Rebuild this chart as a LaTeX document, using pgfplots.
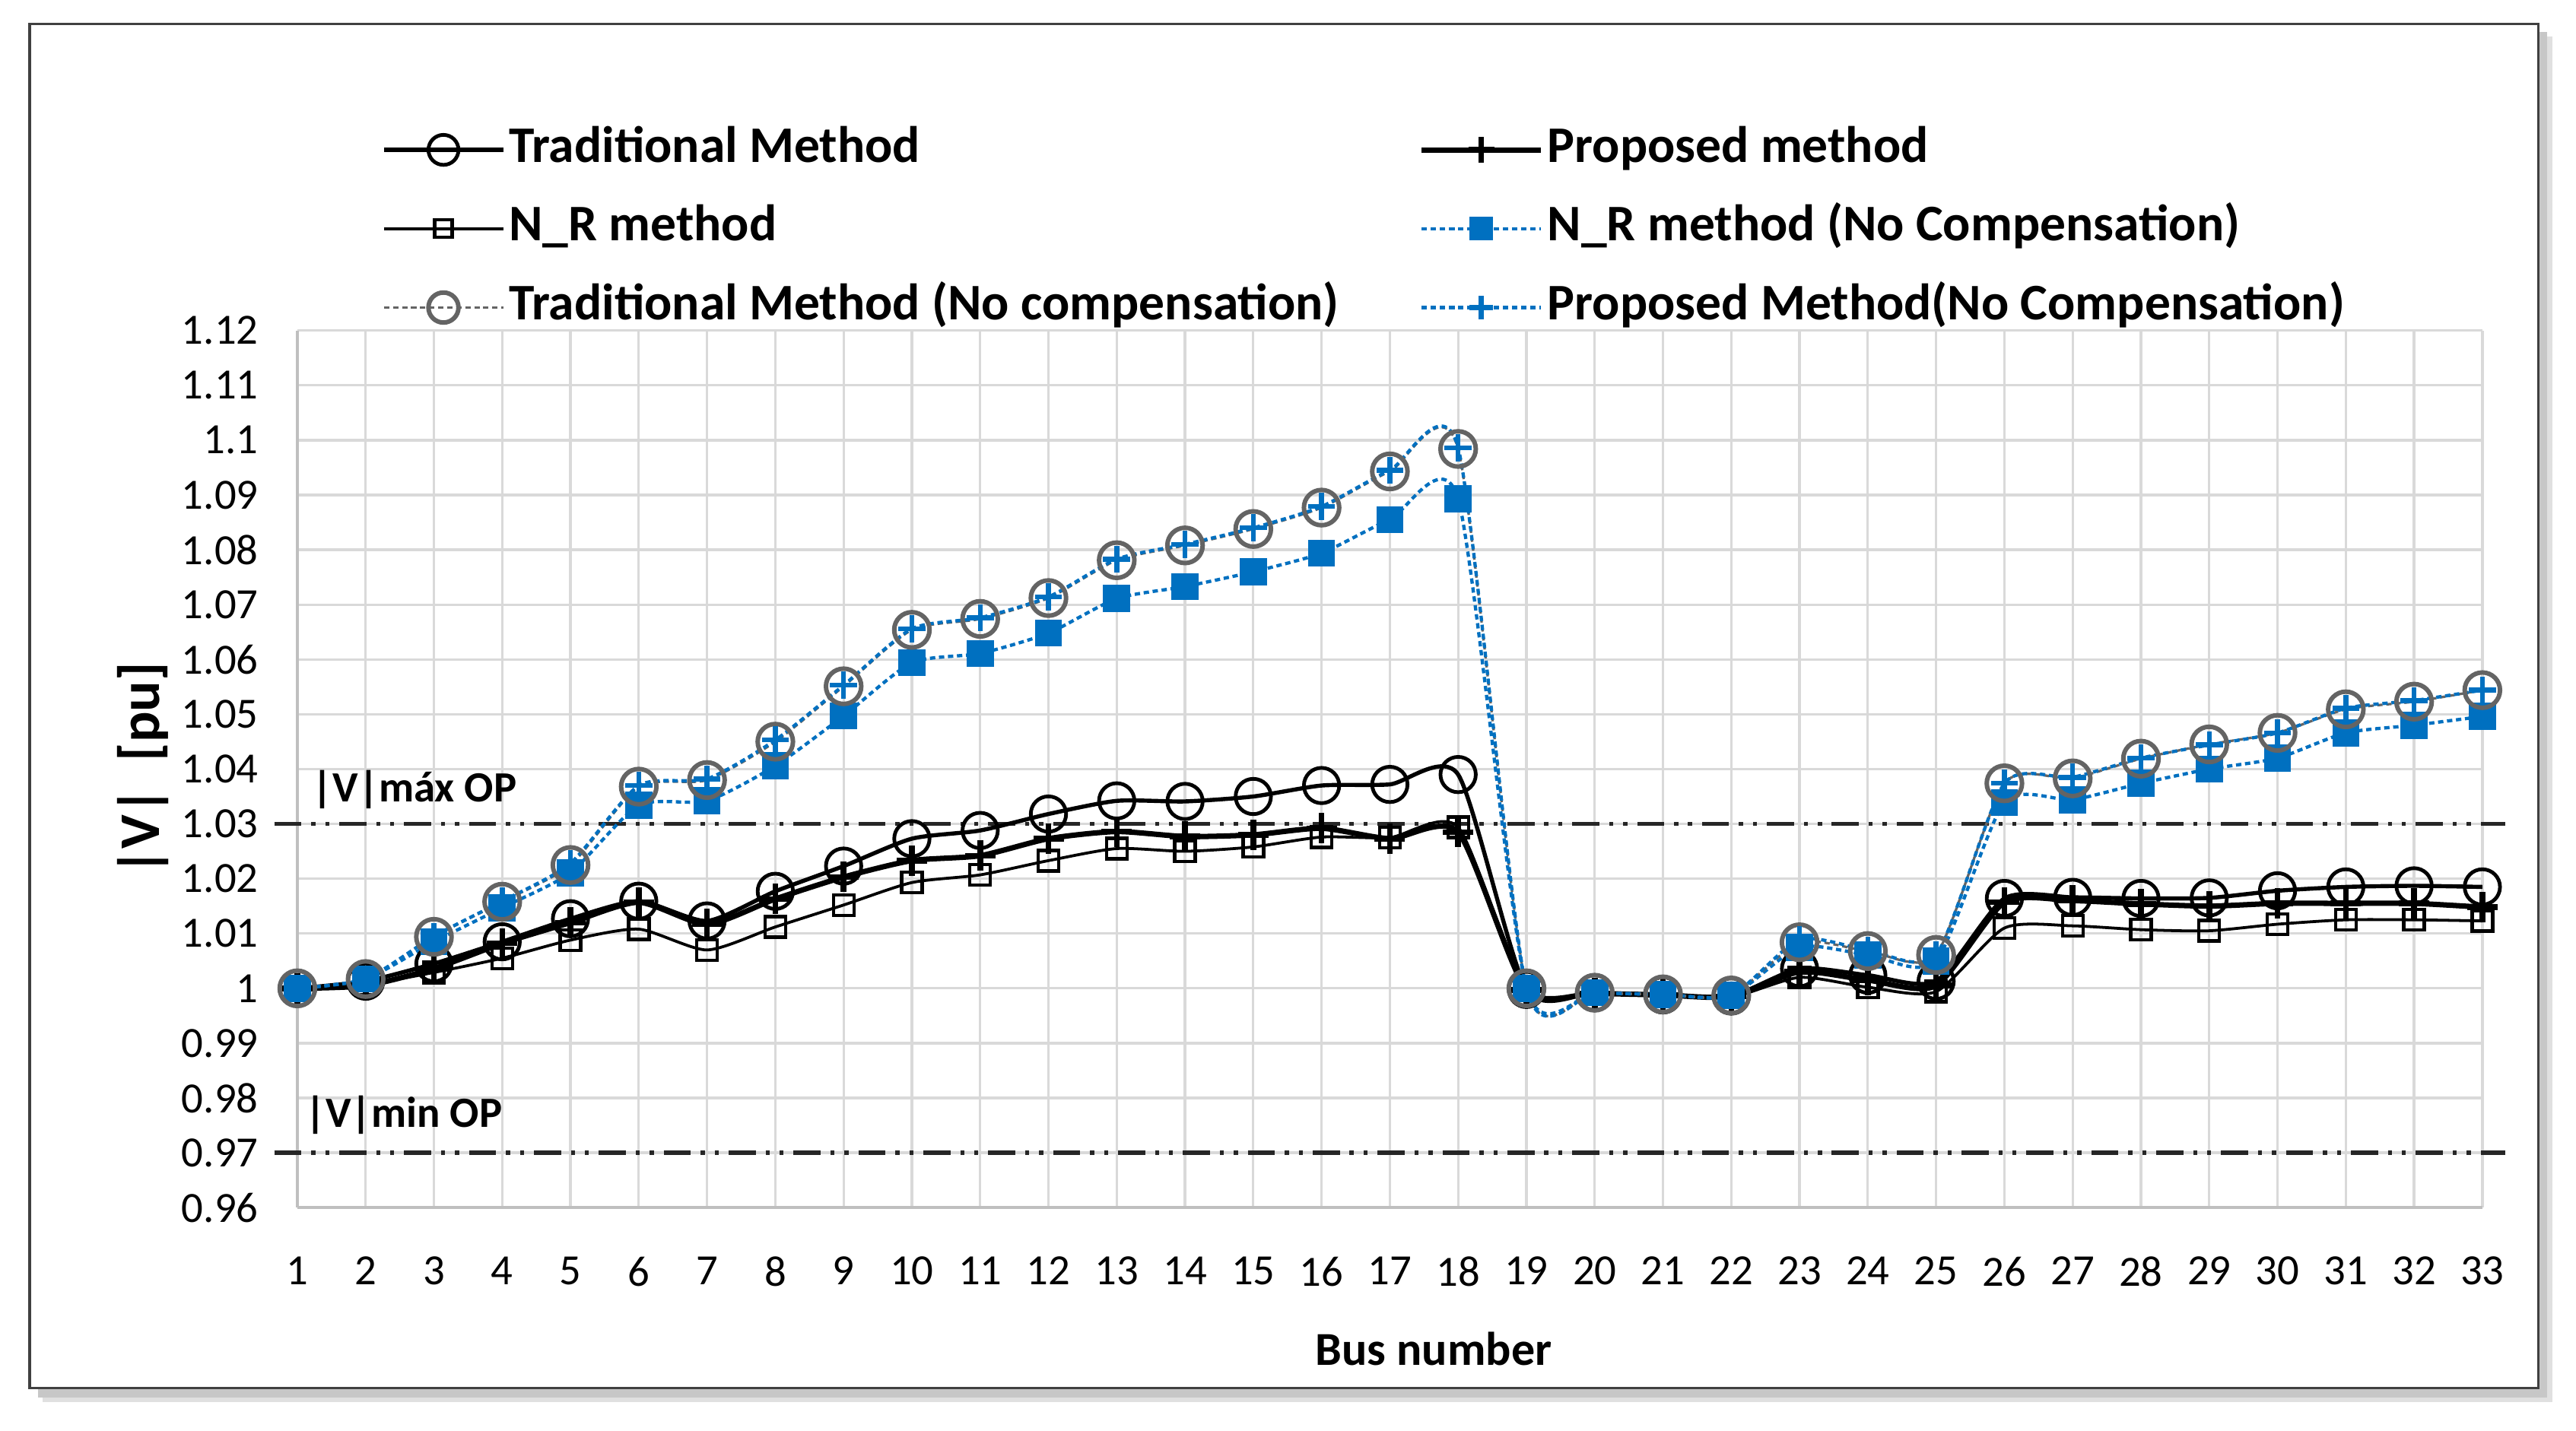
\documentclass[border=0pt]{standalone}
\usepackage{pgfplots}
\pgfplotsset{compat=1.18}
\usepackage{pgfplotstable}
\usepackage{fontspec}
\setmainfont{Carlito}

\definecolor{ncblue}{RGB}{0,112,192}
\definecolor{ncgrey}{RGB}{100,100,100}
\definecolor{gridgrey}{RGB}{217,217,217}
\definecolor{axisgrey}{RGB}{191,191,191}

% bus voltages |V| in pu
% T = traditional, P = proposed, N = N_R, NB = N_R no comp., TG = traditional no comp., PB = proposed no comp.
\pgfplotstableread{
bus T      P      N      NB     TG     PB
1   1.0000 1.0000 1.0000 1.0000 1.0000 1.0000
2   1.0013 1.0005 1.0007 1.0017 1.0017 1.0017
3   1.0045 1.0036 1.0029 1.0085 1.0094 1.0095
4   1.0085 1.0082 1.0055 1.0147 1.0158 1.0159
5   1.0127 1.0120 1.0088 1.0211 1.0225 1.0228
6   1.0159 1.0157 1.0108 1.0334 1.0368 1.0370
7   1.0123 1.0117 1.0070 1.0342 1.0380 1.0382
8   1.0177 1.0163 1.0112 1.0406 1.0450 1.0453
9   1.0223 1.0203 1.0152 1.0497 1.0551 1.0553
10  1.0273 1.0233 1.0193 1.0594 1.0654 1.0656
11  1.0288 1.0242 1.0207 1.0611 1.0674 1.0676
12  1.0318 1.0273 1.0233 1.0648 1.0712 1.0714
13  1.0342 1.0286 1.0255 1.0711 1.0781 1.0783
14  1.0341 1.0277 1.0250 1.0733 1.0808 1.0810
15  1.0350 1.0280 1.0258 1.0760 1.0838 1.0840
16  1.0370 1.0292 1.0276 1.0794 1.0877 1.0879
17  1.0372 1.0273 1.0275 1.0855 1.0943 1.0945
18  1.0390 1.0285 1.0294 1.0893 1.0984 1.0986
19  0.9998 0.9997 0.9996 1.0000 1.0000 1.0000
20  0.9992 0.9991 0.9990 0.9992 0.9992 0.9992
21  0.9988 0.9988 0.9987 0.9989 0.9989 0.9989
22  0.9986 0.9985 0.9984 0.9987 0.9987 0.9987
23  1.0036 1.0030 1.0020 1.0075 1.0084 1.0089
24  1.0024 1.0015 1.0002 1.0061 1.0068 1.0070
25  1.0013 1.0005 0.9994 1.0050 1.0061 1.0061
26  1.0164 1.0157 1.0110 1.0339 1.0374 1.0374
27  1.0166 1.0160 1.0114 1.0344 1.0383 1.0385
28  1.0164 1.0154 1.0107 1.0374 1.0419 1.0420
29  1.0165 1.0150 1.0105 1.0400 1.0445 1.0444
30  1.0178 1.0155 1.0117 1.0420 1.0466 1.0466
31  1.0185 1.0155 1.0125 1.0466 1.0509 1.0511
32  1.0187 1.0155 1.0125 1.0480 1.0523 1.0525
33  1.0185 1.0148 1.0123 1.0496 1.0544 1.0544
}\volt

\begin{document}
\begin{tikzpicture}
\useasboundingbox (0,0) rectangle (627.2pt,348.5pt);
% frame with a soft shadow
\fill[black!12] (10.4pt,7.0pt) rectangle (621.4pt,339.6pt);
\fill[black!22] (9.2pt,8.2pt) rectangle (620.2pt,340.8pt);
\draw[black!75, line width=0.6pt, fill=white] (7.2pt,10.4pt) rectangle (618pt,342.6pt);

\begin{axis}[
  at={(72.4pt,54.4pt)}, anchor=south west,
  scale only axis, width=532pt, height=213.6pt,
  xmin=1, xmax=33, ymin=0.96, ymax=1.12,
  clip=false,
  xtick={1,...,33},
  ytick={0.96,0.97,0.98,0.99,1,1.01,1.02,1.03,1.04,1.05,1.06,1.07,1.08,1.09,1.1,1.11,1.12},
  yticklabels={0.96,0.97,0.98,0.99,1,1.01,1.02,1.03,1.04,1.05,1.06,1.07,1.08,1.09,1.1,1.11,1.12},
  grid=major,
  major grid style={gridgrey, line width=0.6pt},
  axis x line*=bottom, axis y line*=left,
  axis line style={axisgrey, line width=0.7pt, -},
  major tick length=0pt,
  /pgf/number format/assume math mode=true,
  tick label style={font=\fontsize{10.5}{12}\selectfont},
  xticklabel style={yshift=-8.5pt},
  yticklabel style={xshift=-6pt},
  xlabel={Bus number},
  ylabel={|V|\ \ [pu]},
  xlabel style={font=\bfseries\fontsize{11.5}{13}\selectfont, at={(axis description cs:0.520,-0.161)}, anchor=center},
  ylabel style={font=\bfseries\fontsize{14}{16}\selectfont, at={(axis description cs:-0.0707,0.5)}, anchor=center},
  legend columns=2,
  legend cell align=left,
  legend style={at={(axis description cs:0.0383,1.2397)}, anchor=north west,
    draw=none, fill=none, inner sep=0pt,
    font=\bfseries\fontsize{12.5}{14}\selectfont,
    nodes={inner sep=1pt, text height=9pt, text depth=3pt},
    row sep=5.2pt,
    /tikz/every even column/.append style={column sep=18.5pt}},
  legend image code/.code={\draw[mark repeat=2,mark phase=2,#1] plot coordinates {(0pt,0pt) (14.5pt,0pt) (29pt,0pt)};},
  legend image post style={/tikz/every mark/.append style={scale=0.85}},
]
% operating limits
\addplot[forget plot, black!85, line width=1pt,
  dash pattern=on 6.6pt off 2.4pt on 1pt off 2.4pt on 1pt off 2.4pt]
  coordinates {(0.663,1.03) (33.34,1.03)};
\addplot[forget plot, black!85, line width=1pt,
  dash pattern=on 6.6pt off 2.4pt on 1pt off 2.4pt on 1pt off 2.4pt]
  coordinates {(0.663,0.97) (33.34,0.97)};
\node[anchor=west, font=\bfseries\fontsize{10.5}{12}\selectfont] at (axis cs:1.01,1.0363) {|V|máx OP};
\node[anchor=west, font=\bfseries\fontsize{10.5}{12}\selectfont] at (axis cs:0.90,0.9769) {|V|min OP};

\addplot[black, line width=1pt, smooth, tension=0.4,
  mark=o, mark size=4.3pt, mark options={solid, line width=0.9pt}]
  table[x=bus, y=T] {\volt};
\addlegendentry{Traditional Method}
\addplot[black, line width=1.3pt, smooth, tension=0.4,
  mark=+, mark size=3.7pt, mark options={solid, line width=1.4pt}]
  table[x=bus, y=P] {\volt};
\addlegendentry{Proposed method}
\addplot[black, line width=0.7pt, smooth, tension=0.4,
  mark=square, mark size=2.5pt, mark options={solid, line width=0.8pt}]
  table[x=bus, y=N] {\volt};
\addlegendentry{N\_R method}
\addplot[ncblue, line width=0.8pt, smooth, tension=0.4, dash pattern=on 1.3pt off 0.9pt,
  mark=square*, mark size=2.9pt, mark options={solid, fill=ncblue, draw=ncblue}]
  table[x=bus, y=NB] {\volt};
\addlegendentry{N\_R method (No Compensation)}
\addplot[ncgrey, line width=0.6pt, smooth, tension=0.4, dash pattern=on 1.3pt off 0.9pt,
  mark=o, mark size=4.3pt, mark options={solid, line width=1.1pt}]
  table[x=bus, y=TG] {\volt};
\addlegendentry{Traditional Method (No compensation)}
\addplot[ncblue, line width=0.8pt, smooth, tension=0.4, dash pattern=on 1.3pt off 0.9pt,
  mark=+, mark size=3.3pt, mark options={solid, line width=1.2pt}]
  table[x=bus, y=PB] {\volt};
\addlegendentry{Proposed Method(No Compensation)}
\end{axis}
\end{tikzpicture}
\end{document}
